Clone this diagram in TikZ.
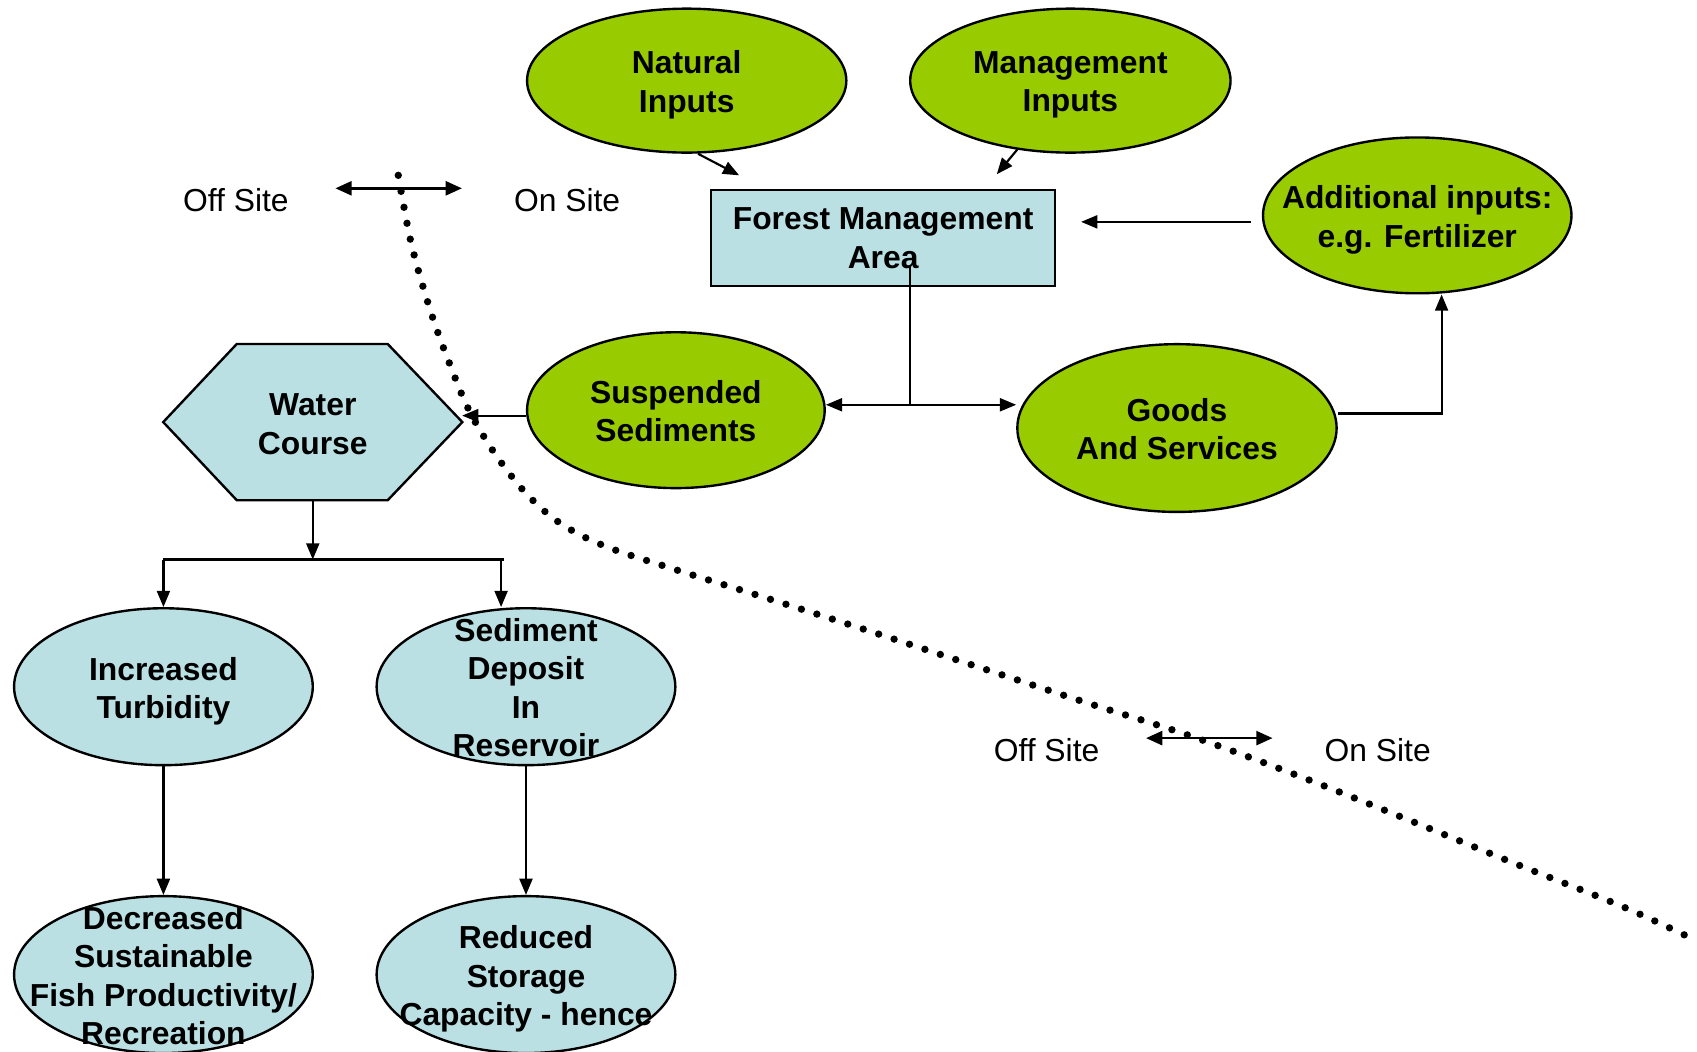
\documentclass[tikz,border=0pt]{standalone}
\usepackage{fontspec}
\setmainfont{Liberation Sans}
\usetikzlibrary{shapes.geometric,arrows.meta,calc}
\definecolor{leaf}{RGB}{153,204,0}
\definecolor{pale}{RGB}{187,224,227}
\begin{document}
\begin{tikzpicture}[x=1pt,y=-1pt,
  every node/.style={font=\fontsize{29.4}{35.5}\selectfont},
  oval/.style={ellipse, draw, line width=2.2pt, inner sep=0pt},
  greenoval/.style={oval, fill=leaf},
  blueoval/.style={oval, fill=pale},
  txt/.style={align=center, font=\fontsize{29.4}{35.5}\selectfont\bfseries, inner sep=0pt},
  lbl/.style={label={[txt,yshift=-1pt]center:{#1}}},
  lbllow/.style={label={[txt,yshift=-4pt]center:{#1}}},
  arr/.style={line width=2pt, -{Triangle[length=15pt,width=12pt]}},
  darr/.style={line width=2.2pt, {Triangle[length=15pt,width=13pt]}-{Triangle[length=15pt,width=13pt]}},
  plain/.style={line width=2pt},
  site/.style={inner sep=0pt},
  boundary/.style={line width=6.8pt, line cap=round, dash pattern=on 0pt off 15pt}
]
\useasboundingbox (0,0) rectangle (1568,972);

% inputs
\node[greenoval, minimum width=295pt, minimum height=133pt, lbllow={Natural\\Inputs}] (nat) at (634.5,74.5) {};
\node[greenoval, minimum width=296pt, minimum height=133pt, lbllow={Management\\Inputs}] (mgmt) at (989,74.5) {};
\node[greenoval, minimum width=285pt, minimum height=144pt, lbllow={Additional inputs:\\e.g. Fertilizer}] (add) at (1309.5,199) {};

% forest management area
\node[draw, line width=2.2pt, fill=pale, minimum width=318pt, minimum height=89pt, inner sep=0pt, txt] (fma) at (816,220) {Forest Management\\Area};

% outputs of the area
\node[greenoval, minimum width=275pt, minimum height=144pt, lbl={Suspended\\Sediments}] (susp) at (624.5,379) {};
\node[greenoval, minimum width=295pt, minimum height=155pt, lbl={Goods\\And Services}] (goods) at (1087.5,395.5) {};

% water course (flattened hexagon)
\node[minimum width=276pt, minimum height=144pt, inner sep=0pt] (water) at (289,390) {};
\draw[line width=2.2pt, fill=pale] (water.west) -- ($(water.north west)+(68,0)$) -- ($(water.north east)+(-69,0)$)
  -- (water.east) -- ($(water.south east)+(-69,0)$) -- ($(water.south west)+(68,0)$) -- cycle;
\node[txt] (waterT) at (289,392) {Water\\Course};

% downstream effects
\node[blueoval, minimum width=276pt, minimum height=145pt, lbllow={Increased\\Turbidity}] (turb) at (151,634.5) {};
\node[blueoval, minimum width=276pt, minimum height=145pt, lbl={Sediment\\Deposit\\In\\Reservoir}] (sed) at (486,634.5) {};
\node[blueoval, minimum width=276pt, minimum height=145pt, lbl={Decreased\\Sustainable\\Fish Productivity/\\Recreation}] (dec) at (151,900.5) {};
\node[blueoval, minimum width=276pt, minimum height=145pt, lbllow={Reduced\\Storage\\Capacity - hence}] (red) at (486,900.5) {};

% site labels
\node[site] (offA) at (218,185) {Off Site};
\node[site] (onA) at (524,185) {On Site};
\node[site] (offB) at (967,693) {Off Site};
\node[site] (onB) at (1273,693) {On Site};
\draw[darr] ($(offA.east)+(43,-11)$) -- ($(onA.west)+(-48,-11)$);
\draw[darr] ($(offB.east)+(43,-11)$) -- ($(onB.west)+(-48,-11)$);

% connectors
\coordinate (natTip) at (683,162);
\coordinate (mgTip) at (921,161);
\coordinate (split) at (841,374);
\coordinate (wIn) at (427,384);
\coordinate (fork) at (289,517);
\coordinate (forkL) at (151,517);
\coordinate (forkR) at (466,517);
\coordinate (dropR) at (463,517);

\draw[arr] ([xshift=10.5pt]nat.south) -- (natTip);
\draw[arr] ([xshift=-49pt,yshift=4pt]mgmt.south) -- (mgTip);
\draw[arr] ([xshift=-10pt,yshift=-6pt]add.west) -- ++(-157,0);
\draw[plain] ($(fma.center)+(25,25)$) -- (split);
\draw[arr] (split) -- (split -| susp.east);
\draw[arr] (split) -- (split -| goods.west);
\draw[arr] ([yshift=13.5pt]goods.east) -| ([xshift=22.5pt]add.south);
\draw[arr] ([yshift=-5pt]susp.west) -- (wIn);
\draw[arr] (water.south) -- (fork);
\draw[plain] (forkL) -- (forkR);
\draw[arr] (forkL) -- (turb.north);
\draw[arr] (dropR) -- (dropR |- sed.north);
\draw[arr] (turb.south) -- (dec.north);
\draw[arr] (sed.south) -- (red.north);

% on-site / off-site boundary
\draw[boundary] plot[smooth, tension=0.6] coordinates {
  (368,162) (373,190) (380,225) (390,262) (402,300) (415,335) (430,372)
  (445,400) (465,430) (490,460) (520,485) (560,505) (620,525) (700,550)
  (800,582) (900,615) (1000,648) (1100,680) (1200,717) (1300,757)
  (1400,798) (1500,838) (1567,869)};
\end{tikzpicture}
\end{document}
